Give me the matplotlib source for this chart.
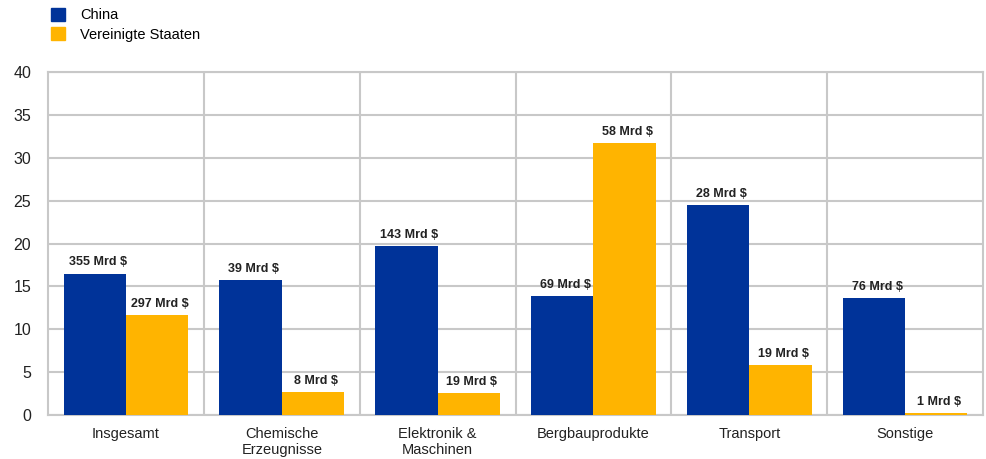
import numpy as np
import matplotlib
matplotlib.use("Agg")
import matplotlib.pyplot as plt
from matplotlib.patches import Patch

categories = ['Insgesamt', 'Chemische\nErzeugnisse', 'Elektronik &\nMaschinen',
              'Bergbauprodukte', 'Transport', 'Sonstige']
china = [16.5, 15.7, 19.7, 13.9, 24.5, 13.6]
usa = [11.7, 2.7, 2.6, 31.7, 5.8, 0.2]
china_labels = ['355 Mrd $', '39 Mrd $', '143 Mrd $', '69 Mrd $', '28 Mrd $', '76 Mrd $']
usa_labels = ['297 Mrd $', '8 Mrd $', '19 Mrd $', '58 Mrd $', '19 Mrd $', '1 Mrd $']

c_china = '#003399'
c_usa = '#FFB400'
grid_c = '#c8c8c8'

plt.rcParams['font.family'] = ['Arial', 'Liberation Sans', 'DejaVu Sans']

fig = plt.figure(figsize=(9.86, 4.59), dpi=100)
ax = fig.add_axes([0.0487, 0.0959, 0.9483, 0.7471])

x = np.arange(len(categories))
w = 0.4
b1 = ax.bar(x - w / 2, china, w, color=c_china, zorder=3)
b2 = ax.bar(x + w / 2, usa, w, color=c_usa, zorder=3)

for bars, labels in ((b1, china_labels), (b2, usa_labels)):
    for bar, lab in zip(bars, labels):
        ax.text(bar.get_x() + bar.get_width() / 2 + 0.02, bar.get_height() + 0.6, lab,
                ha='center', va='bottom', fontsize=9, fontweight='bold', color='#222222', zorder=4)

ax.set_xlim(-0.5, len(categories) - 0.5)
ax.set_ylim(0, 40)
ax.set_yticks(range(0, 41, 5))
ax.yaxis.grid(True, color=grid_c, linewidth=1.5, zorder=0)
for b in np.arange(0.5, len(categories) - 0.5, 1):
    ax.axvline(b, color=grid_c, linewidth=1.5, zorder=0)
ax.set_xticks(x)
ax.set_xticklabels(categories, fontsize=10.5, color='#222222', linespacing=1.1)
ax.tick_params(axis='both', length=0, pad=9)
ax.tick_params(axis='y', labelsize=11.5, pad=12, labelcolor='#222222')
for s in ax.spines.values():
    s.set_color(grid_c)
    s.set_linewidth(1.5)

handles = [Patch(color=c_china, label='China'), Patch(color=c_usa, label='Vereinigte Staaten')]
fig.legend(handles=handles, loc='upper left', bbox_to_anchor=(0.038, 1.012), frameon=False,
           fontsize=10.5, handlelength=1.0, handleheight=1.0, labelspacing=0.35, handletextpad=1.0)

fig.savefig('out.png', dpi=100)
